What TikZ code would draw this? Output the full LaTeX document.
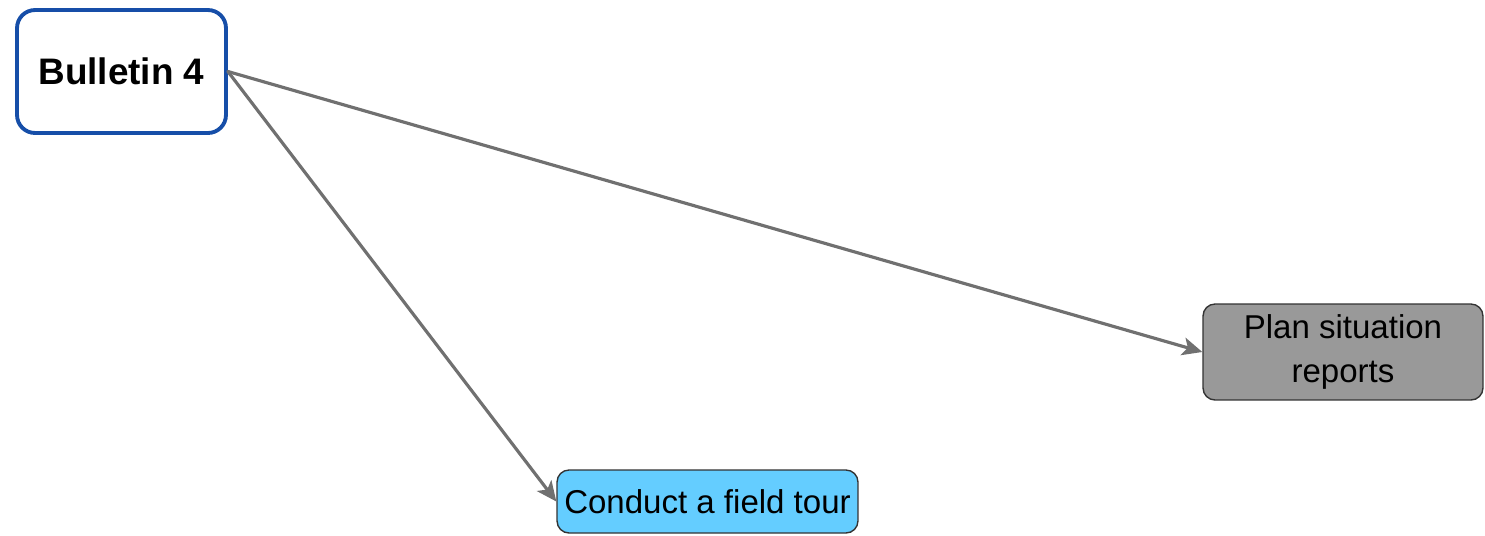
\documentclass[tikz,border=0pt]{standalone}
\usepackage{fontspec}
\setmainfont{Liberation Sans}
\usetikzlibrary{arrows.meta}
\definecolor{bulletinblue}{RGB}{22,78,168}
\definecolor{tourblue}{RGB}{100,205,255}
\definecolor{plangray}{RGB}{153,153,153}
\definecolor{linkgray}{RGB}{112,112,112}

\begin{document}
\begin{tikzpicture}[line cap=round,line join=round,x=0.02cm,y=-0.02cm,
    bulletin/.style={draw=bulletinblue,line width=2.2pt,fill=white,rounded corners=0.36cm,
        minimum width=4.18cm,minimum height=2.46cm,inner sep=0pt,
        font=\fontsize{21}{24}\selectfont\bfseries},
    task/.style={draw=black!80,line width=0.8pt,rounded corners=0.24cm,inner sep=0pt,
        font=\fontsize{18.8}{25}\selectfont,align=center},
    link/.style={draw=linkgray,line width=1.8pt,-{Stealth[length=0.4cm,width=0.36cm,inset=0.1cm]}}]
                \useasboundingbox (0,0) rectangle (1485,535);
                \node[bulletin] (b4) at (121.5,71.5) {Bulletin 4};
                \node[task,fill=plangray,minimum width=5.6cm,minimum height=1.92cm] (plan) at (1343,352) {Plan situation\\reports};
                \node[task,fill=tourblue,minimum width=6.02cm,minimum height=1.26cm] (tour) at (707.5,501.5) {Conduct a field tour};
                \draw [link] (b4.east) -- (plan.west);
                \draw [link] (b4.east) -- (tour.west);
            \end{tikzpicture}
\end{document}
